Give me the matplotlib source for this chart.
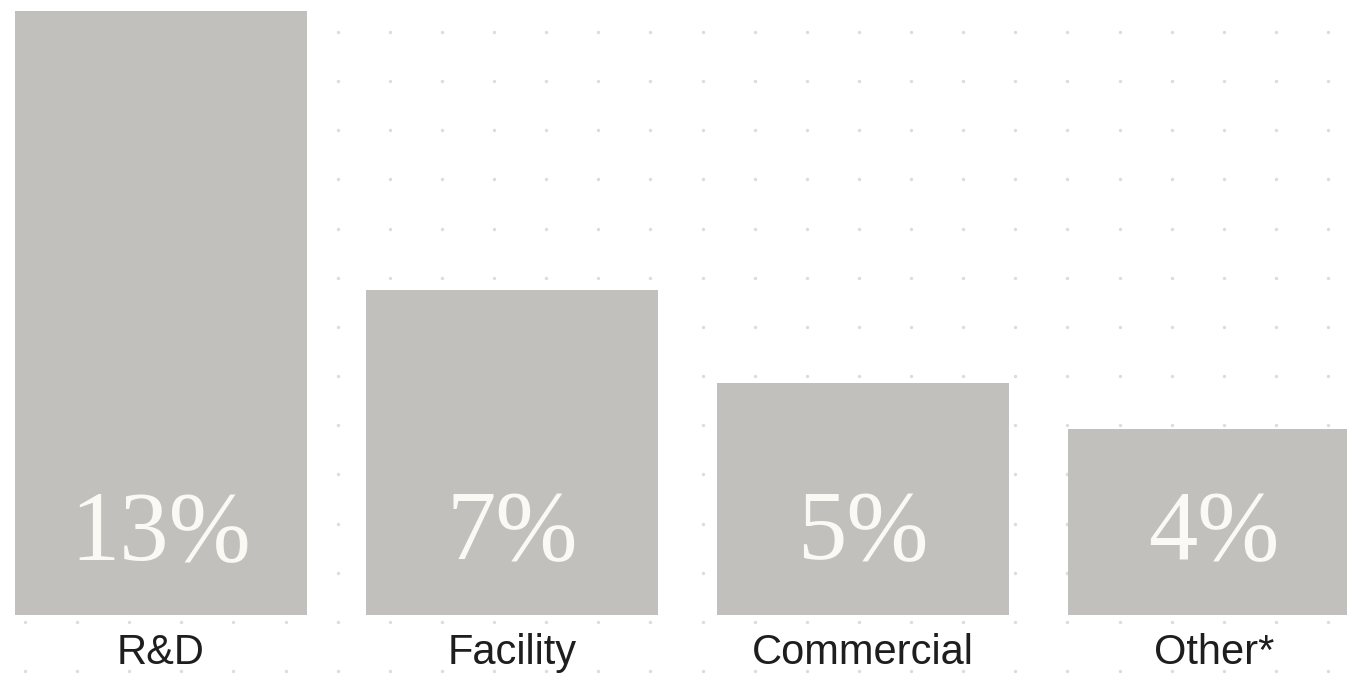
import matplotlib.pyplot as plt
import numpy as np

categories = ["R&D", "Facility", "Commercial", "Other*"]
values = [13, 7, 5, 4]
value_labels = ["13%", "7%", "5%", "4%"]

bar_color = "#c1c0bc"
dot_color = "#dcdcdc"
label_color = "#1e1e1e"
value_color = "#fbf9f3"

fig = plt.figure(figsize=(13.47, 6.77), dpi=100)
ax = fig.add_axes([0, 0, 1, 1])

# dotted background grid (fixed pixel spacing)
W, H = 1347, 677
gx = (25 + 52.12 * np.arange(26)) / W
gy = 1 - (32 + 49.15 * np.arange(14)) / H
GX, GY = np.meshgrid(gx, gy)
ax.scatter(GX.ravel(), GY.ravel(), s=6, color=dot_color, linewidths=0,
           transform=ax.transAxes, zorder=0)

x = np.arange(len(categories))
ax.bar(x, values, width=0.832, color=bar_color, zorder=2)

for xi, lab in zip(x, value_labels):
    ax.text(xi, 1.72, lab, ha="center", va="center", fontsize=71,
            family="Liberation Serif", color=value_color, zorder=3)

for xi, cat in zip(x, categories):
    ax.text(xi, -0.82, cat, ha="center", va="center", fontsize=30,
            family="Liberation Sans", color=label_color, zorder=3)

ax.set_xlim(-0.4587, 3.379)
ax.set_ylim(-1.334, 13.237)
ax.axis("off")

fig.savefig("out.png", dpi=100)
